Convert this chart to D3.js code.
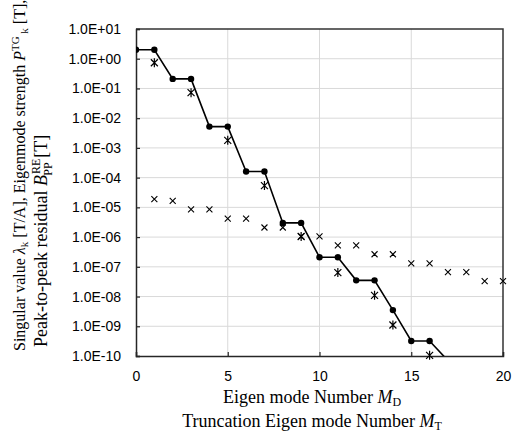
<!DOCTYPE html>
<html>
<head>
<meta charset="utf-8">
<script src="https://cdn.jsdelivr.net/npm/d3@7"></script>
<style>
  body { margin: 0; background: #fff; }
  .tick text { font-family: "Liberation Sans", Arial, sans-serif; font-size: 14px; fill: #000; }
  .title { font-family: "Liberation Serif", "Times New Roman", serif; fill: #000; }
</style>
</head>
<body>
<svg id="chart" width="512" height="446"></svg>
<script>
// mode number for the staircase line (singular value, dots)
var modeX = [0, 1, 2, 3, 4, 5, 6, 7, 8, 9, 10, 11, 12, 13, 14, 15, 16, 17];
var singularVal = [2.0, 2.0, 0.21, 0.21, 5.2e-3, 5.2e-3, 1.6e-4, 1.6e-4, 3.0e-6, 3.0e-6,
    2.1e-7, 2.1e-7, 3.5e-8, 3.5e-8, 3.5e-9, 3.2e-10, 3.2e-10, 7e-11];

// eigenmode strength (asterisks)
var strengthX = [1, 3, 5, 7, 9, 11, 13, 14, 16];
var strengthVal = [0.73, 0.072, 1.8e-3, 5.4e-5, 1.05e-6, 6.4e-8, 1.1e-8, 1.1e-9, 1.05e-10];

// peak-to-peak residual (small x)
var residualX = [1, 2, 3, 4, 5, 6, 7, 8, 9, 10, 11, 12, 13, 14, 15, 16, 17, 18, 19, 20];
var residualVal = [1.9e-5, 1.65e-5, 8.5e-6, 8.5e-6, 4.2e-6, 4.2e-6, 2.1e-6, 2.1e-6, 1.05e-6, 1.05e-6,
    5.3e-7, 5.3e-7, 2.65e-7, 2.65e-7, 1.3e-7, 1.3e-7, 6.6e-8, 6.6e-8, 3.3e-8, 3.3e-8];

var xTicks = [0, 5, 10, 15, 20];
var yTicks = [1e1, 1e0, 1e-1, 1e-2, 1e-3, 1e-4, 1e-5, 1e-6, 1e-7, 1e-8, 1e-9, 1e-10];

var svg = d3.select("#chart");
var pLeft = 136, pRight = 503, pTop = 29, pBottom = 356;

var x = d3.scaleLinear().domain([0, 20]).range([pLeft, pRight]);
var y = d3.scaleLog().domain([1e-10, 1e1]).range([pBottom, pTop]);

function sciFmt(d) {
    var e = Math.round(Math.log10(d));
    var s = String(Math.abs(e)).padStart(2, "0");
    return "1.0E" + (e >= 0 ? "+" : "-") + s;
}

svg.append("defs").append("clipPath").attr("id", "plotClip")
    .append("rect").attr("x", pLeft).attr("y", pTop)
    .attr("width", pRight - pLeft).attr("height", pBottom - pTop);

// grid
svg.append("g").selectAll("line").data(yTicks.slice(1, -1)).enter().append("line")
    .attr("x1", pLeft).attr("x2", pRight)
    .attr("y1", d => y(d)).attr("y2", d => y(d))
    .attr("stroke", "#d9d9d9").attr("stroke-width", 1);
svg.append("g").selectAll("line").data(xTicks.slice(1, -1)).enter().append("line")
    .attr("x1", d => x(d)).attr("x2", d => x(d))
    .attr("y1", pTop).attr("y2", pBottom)
    .attr("stroke", "#d9d9d9").attr("stroke-width", 1);

// top / right border
svg.append("path")
    .attr("d", "M" + pLeft + "," + pTop + "H" + pRight + "V" + pBottom)
    .attr("fill", "none").attr("stroke", "#333").attr("stroke-width", 1.5);

// axes, ticks pointing inward
var yAxis = d3.axisLeft(y).tickValues(yTicks).tickFormat(sciFmt).tickSize(-4).tickPadding(15);
var gy = svg.append("g").attr("transform", "translate(" + pLeft + ",0)").call(yAxis);
var xAxis = d3.axisBottom(x).tickValues(xTicks).tickSize(-4).tickPadding(17);
var gx = svg.append("g").attr("transform", "translate(0," + pBottom + ")").call(xAxis);
[gy, gx].forEach(g => {
    g.select(".domain").attr("stroke", "#262626").attr("stroke-width", 1.5);
    g.selectAll(".tick line").attr("stroke", "#262626").attr("stroke-width", 1.2);
});
gx.selectAll(".tick text").attr("dy", "0.6em");

var plot = svg.append("g").attr("clip-path", "url(#plotClip)");

// staircase line with dots
var lineGen = d3.line().x((d, i) => x(modeX[i])).y(d => y(d));
plot.append("path").datum(singularVal).attr("d", lineGen)
    .attr("fill", "none").attr("stroke", "#000").attr("stroke-width", 1.6);
plot.selectAll(".dot").data(singularVal).enter().append("circle")
    .attr("cx", (d, i) => x(modeX[i])).attr("cy", d => y(d)).attr("r", 3.2)
    .attr("fill", "#000");

// asterisks
var aster = svg.append("g").selectAll("g").data(strengthVal).enter().append("g")
    .attr("transform", (d, i) => "translate(" + x(strengthX[i]) + "," + y(d) + ")");
aster.append("path").attr("d", "M-3.5,-3.5L3.5,3.5M-3.5,3.5L3.5,-3.5M0,-4.5V4.5")
    .attr("stroke", "#000").attr("stroke-width", 1.2).attr("fill", "none");

// x markers
svg.append("g").selectAll("path").data(residualVal).enter().append("path")
    .attr("transform", (d, i) => "translate(" + x(residualX[i]) + "," + y(d) + ")")
    .attr("d", "M-3,-3L3,3M-3,3L3,-3")
    .attr("stroke", "#000").attr("stroke-width", 1.1).attr("fill", "none");

// x titles
var t1 = svg.append("text").attr("class", "title").style("font-size", "18px")
    .attr("x", 312).attr("y", 403).attr("text-anchor", "middle");
t1.append("tspan").text("Eigen mode Number ");
t1.append("tspan").attr("font-style", "italic").text("M");
t1.append("tspan").style("font-size", "12px").attr("dy", 3).text("D");

var t2 = svg.append("text").attr("class", "title").style("font-size", "18px")
    .attr("x", 312).attr("y", 427).attr("text-anchor", "middle");
t2.append("tspan").text("Truncation Eigen mode Number ");
t2.append("tspan").attr("font-style", "italic").text("M");
t2.append("tspan").style("font-size", "12px").attr("dy", 3).text("T");

// y titles (rotated)
var y1 = svg.append("text").attr("class", "title").style("font-size", "16px")
    .attr("transform", "translate(25,351) rotate(-90)");
y1.append("tspan").text("Singular value ");
y1.append("tspan").attr("font-style", "italic").text("λ");
y1.append("tspan").style("font-size", "11px").attr("dy", 3).text("k");
y1.append("tspan").attr("dy", -3).text(" [T/A], Eigenmode strength ");
y1.append("tspan").attr("font-style", "italic").text("P");
y1.append("tspan").style("font-size", "11px").attr("dy", -6).text("TG");
y1.append("tspan").style("font-size", "11px").attr("dy", 9).text(" k");
y1.append("tspan").attr("dy", -3).text(" [T],");

var y2 = svg.append("text").attr("class", "title").style("font-size", "18px")
    .attr("transform", "translate(47,347) rotate(-90)");
y2.append("tspan").text("Peak-to-peak residual ");
y2.append("tspan").attr("font-style", "italic").text("B");
y2.append("tspan").style("font-size", "12px").attr("dx", 1).attr("dy", -7).text("RE");
y2.append("tspan").style("font-size", "12px").attr("dx", -17).attr("dy", 12).text("PP");
y2.append("tspan").attr("dy", -5).text(" [T]");
</script>
</body>
</html>
